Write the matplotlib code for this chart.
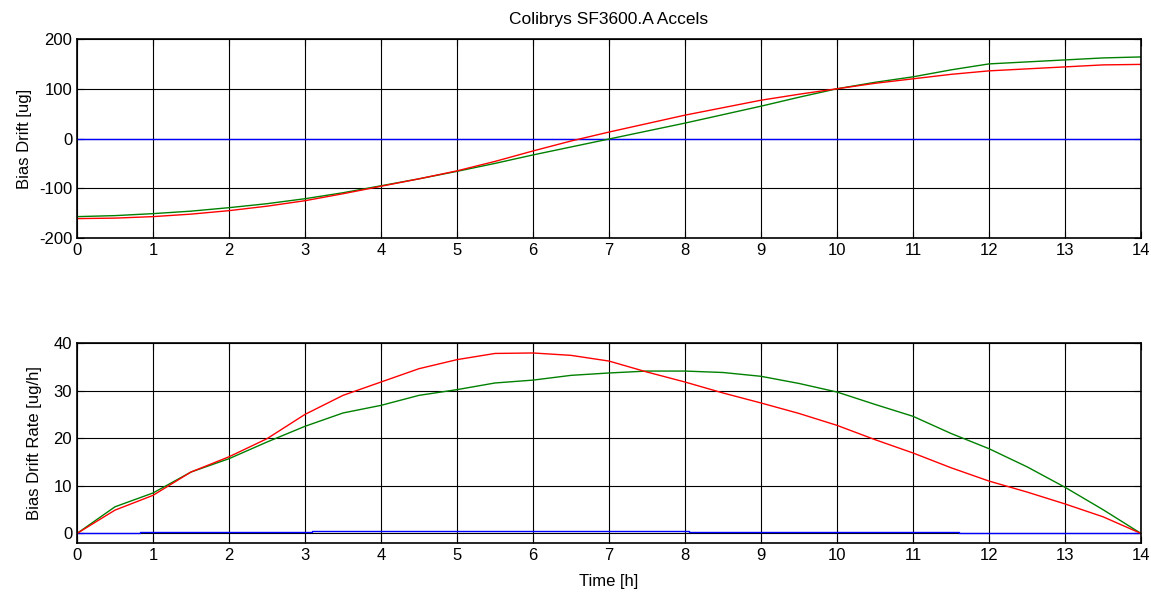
import matplotlib
matplotlib.use("Agg")
import matplotlib.pyplot as plt

plt.rcParams["font.family"] = ["Liberation Sans", "DejaVu Sans"]
plt.rcParams["font.size"] = 12
plt.rcParams["axes.unicode_minus"] = False

# Time axis of the read-off samples [h]
time_h = [0, 0.5, 1, 1.5, 2, 2.5, 3, 3.5, 4, 4.5, 5, 5.5, 6, 6.5, 7,
          7.5, 8, 8.5, 9, 9.5, 10, 10.5, 11, 11.5, 12, 12.5, 13, 13.5, 14]

# Bias drift [ug]
drift_red = [-161, -160, -157, -152, -145, -136, -125, -111, -96, -81,
             -65, -46, -25, -5, 13, 30, 47, 62, 77, 89,
             100, 111, 120, 129, 136, 140, 144, 148, 149]
drift_green = [-157, -155, -151, -146, -139, -131, -121, -109, -95, -81,
               -66, -50, -33, -17, -1, 15, 31, 48, 65, 83,
               100, 113, 124, 138, 150, 154, 158, 162, 164]
drift_blue = [0] * len(time_h)

# Bias drift rate [ug/h]
rate_red = [0, 4.9, 8.0, 12.9, 16.1, 19.9, 25.0, 29.0, 31.8, 34.6,
            36.5, 37.8, 37.9, 37.4, 36.2, 33.9, 31.8, 29.5, 27.4, 25.2,
            22.7, 19.7, 16.9, 13.8, 11.0, 8.7, 6.2, 3.5, 0]
rate_green = [0, 5.6, 8.5, 12.9, 15.7, 19.2, 22.5, 25.3, 26.9, 29.0,
              30.2, 31.6, 32.2, 33.2, 33.7, 34.1, 34.1, 33.8, 33.0, 31.5,
              29.7, 27.1, 24.6, 21.0, 17.8, 14.0, 9.7, 5.0, 0]
# blue rate is piecewise constant
rate_blue_t = [0, 0.83, 3.09, 8.05, 11.6, 14]
rate_blue = [0, 0.3, 0.6, 0.3, 0, 0]

green = (0, 0.5, 0)

fig = plt.figure(figsize=(11.51, 5.94), dpi=100)
ax1 = fig.add_axes([0.0669, 0.5993, 0.9244, 0.335])
ax2 = fig.add_axes([0.0669, 0.0859, 0.9244, 0.3367])

ax1.plot(time_h, drift_blue, color="b", lw=1)
ax1.plot(time_h, drift_green, color=green, lw=1)
ax1.plot(time_h, drift_red, color="r", lw=1)
ax1.set_ylim(-200, 200)
ax1.set_yticks([-200, -100, 0, 100, 200])
ax1.set_ylabel("Bias Drift [ug]", labelpad=5)
ax1.set_title("Colibrys SF3600.A Accels", fontsize=12.5, pad=11)

ax2.step(rate_blue_t, rate_blue, where="post", color="b", lw=1)
ax2.plot(time_h, rate_green, color=green, lw=1)
ax2.plot(time_h, rate_red, color="r", lw=1)
ax2.set_ylim(-2, 40)
ax2.set_yticks([0, 10, 20, 30, 40])
ax2.set_ylabel("Bias Drift Rate [ug/h]", labelpad=8)
ax2.set_xlabel("Time [h]", labelpad=8)

for ax in (ax1, ax2):
    ax.set_xlim(0, 14)
    ax.set_xticks(range(0, 15))
    ax.grid(True, color="black", lw=0.8)
    ax.set_axisbelow(True)
    ax.tick_params(direction="in", top=True, right=True, length=5, width=0.8)
    for s in ax.spines.values():
        s.set_linewidth(1.2)

fig.savefig("out.png", dpi=100)
